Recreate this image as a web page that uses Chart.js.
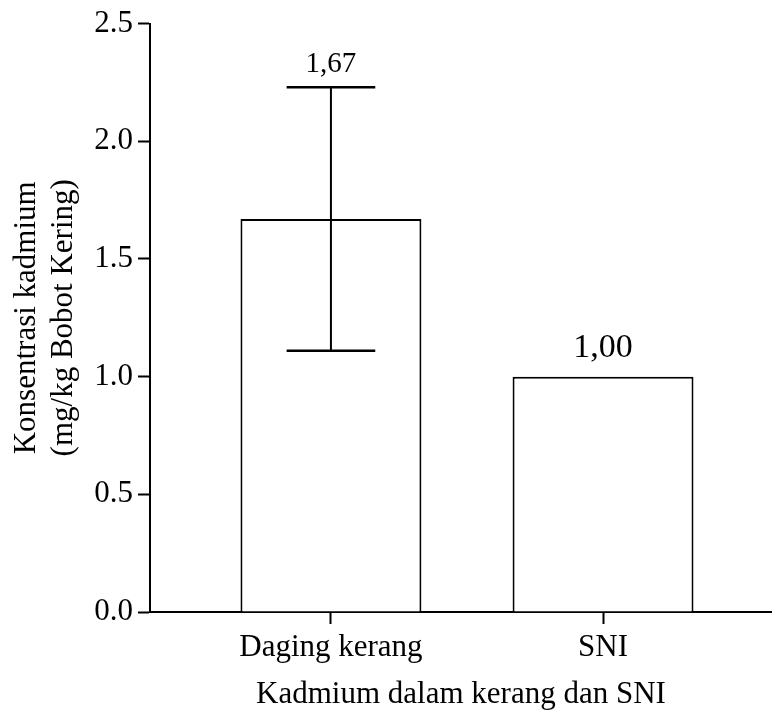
<!DOCTYPE html>
<html>
<head>
<meta charset="utf-8">
<script src="https://cdn.jsdelivr.net/npm/chart.js@4.4.1/dist/chart.umd.min.js"></script>
<style>
html, body { margin: 0; padding: 0; background: #fff; }
#wrap { width: 772px; height: 720px; }
</style>
</head>
<body>
<div id="wrap"><canvas id="grafico"></canvas></div>
<script>
// Data
const kategori = ['Daging kerang', 'SNI'];
const posisi = [1, 2];
const nilai = [1.67, 1.00];
const galat = [0.56, null];        // simpangan (error bar), SNI tanpa galat
const labelNilai = ['1,67', '1,00'];
const tickY = [0, 0.5, 1.0, 1.5, 2.0, 2.5];

const judulY = ['Konsentrasi kadmium', '(mg/kg Bobot Kering)'];
const judulX = 'Kadmium dalam kerang dan SNI';

// Rentang sumbu x (posisi kategori 1 dan 2)
const xMin = 0.335;
const xMax = 2.621;

const huruf = '"Liberation Serif", "Times New Roman", serif';

// Plugin untuk menggambar error bar dan label nilai
const pluginGalat = {
    id: 'galat',
    afterDatasetsDraw(chart, args, opts) {
        const ctx = chart.ctx;
        const meta = chart.getDatasetMeta(0);
        const skalaY = chart.scales.y;
        ctx.save();
        ctx.strokeStyle = '#000';
        ctx.fillStyle = '#000';
        meta.data.forEach((bar, i) => {
            let puncak = bar.y;
            if (galat[i] != null) {
                const yAtas = skalaY.getPixelForValue(nilai[i] + galat[i]);
                const yBawah = skalaY.getPixelForValue(nilai[i] - galat[i]);
                const setengahCap = bar.width * opts.capRatio / 2;
                ctx.lineWidth = 2;
                ctx.beginPath();
                ctx.moveTo(bar.x, yAtas);
                ctx.lineTo(bar.x, yBawah);
                ctx.stroke();
                ctx.lineWidth = opts.capWidth;
                ctx.beginPath();
                ctx.moveTo(bar.x - setengahCap, yAtas);
                ctx.lineTo(bar.x + setengahCap, yAtas);
                ctx.moveTo(bar.x - setengahCap, yBawah);
                ctx.lineTo(bar.x + setengahCap, yBawah);
                ctx.stroke();
                puncak = yAtas;
            }
            ctx.font = opts.fontSize[i] + 'px ' + huruf;
            ctx.textAlign = 'center';
            ctx.textBaseline = 'alphabetic';
            ctx.fillText(labelNilai[i], bar.x, puncak - opts.jarak[i]);
        });
        ctx.restore();
    }
};

const fontSumbu = { family: huruf, size: 31 };

new Chart(document.getElementById('grafico'), {
    type: 'bar',
    data: {
        datasets: [{
            data: posisi.map((p, i) => ({ x: p, y: nilai[i] })),
            backgroundColor: '#fff',
            borderColor: '#000',
            borderWidth: 2,
            barPercentage: 1,
            categoryPercentage: 0.665
        }]
    },
    options: {
        responsive: true,
        maintainAspectRatio: false,
        animation: false,
        layout: { padding: { top: 23, right: 0, left: 0, bottom: 0 } },
        plugins: {
            legend: { display: false },
            tooltip: { enabled: false },
            galat: { capRatio: 0.49, capWidth: 2.5, fontSize: [29, 34], jarak: [15, 20] }
        },
        scales: {
            x: {
                type: 'linear',
                min: xMin,
                max: xMax,
                offset: false,
                afterBuildTicks: s => { s.ticks = posisi.map(v => ({ value: v })); },
                afterFit: s => { s.height = 108; },
                ticks: {
                    callback: (v, i) => kategori[i],
                    font: fontSumbu,
                    color: '#000',
                    padding: 5,
                    maxRotation: 0,
                    autoSkip: false
                },
                grid: { offset: false, drawOnChartArea: false, drawTicks: true, tickLength: 12, tickWidth: 2, tickColor: '#000' },
                border: { display: true, color: '#000', width: 2 },
                title: { display: true, text: judulX, font: fontSumbu, color: '#000', padding: { top: 0, bottom: 7 } }
            },
            y: {
                min: 0,
                max: 2.5,
                afterBuildTicks: s => { s.ticks = tickY.map(v => ({ value: v })); },
                afterFit: s => { s.width = 150; },
                ticks: {
                    callback: v => v.toFixed(1),
                    font: fontSumbu,
                    color: '#000',
                    padding: 5
                },
                grid: { drawOnChartArea: false, drawTicks: true, tickLength: 12, tickWidth: 2, tickColor: '#000' },
                border: { display: true, color: '#000', width: 2 },
                title: { display: true, text: judulY, font: fontSumbu, color: '#000', padding: { top: 8, bottom: 0 } }
            }
        }
    },
    plugins: [pluginGalat]
});
</script>
</body>
</html>
